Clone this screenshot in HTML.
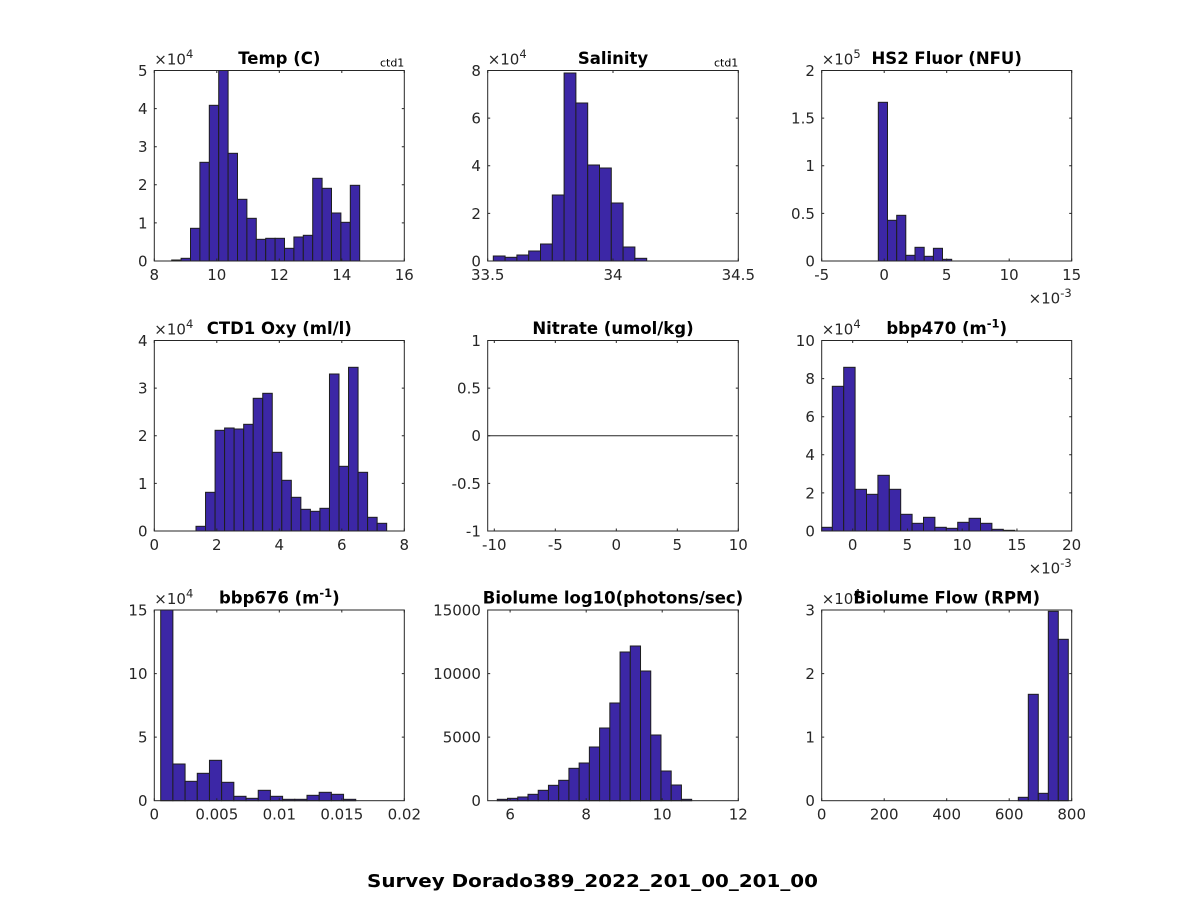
<!DOCTYPE html>
<html><head><meta charset="utf-8"><style>
html,body{margin:0;padding:0;background:#fff;}
svg{display:block;}
text{font-family:"DejaVu Sans","Liberation Sans",sans-serif;fill:#262626;}
.t{font-size:15px;}
.ti{font-size:16.5px;font-weight:bold;fill:#000;}
.bar{fill:#3c27a6;stroke:#1e1e1e;stroke-width:1;}
.ax{fill:none;stroke:#262626;stroke-width:1;}
</style></head><body>
<svg width="1188" height="900" viewBox="0 0 1188 900" xmlns="http://www.w3.org/2000/svg">
<rect width="1188" height="900" fill="#fff"/>

<!-- Panel 1: Temp -->
<g class="bar">
<rect x="171.7" y="260" width="9.4" height="1"/>
<rect x="181.1" y="258.3" width="9.4" height="2.7"/>
<rect x="190.5" y="228.3" width="9.4" height="32.7"/>
<rect x="199.9" y="162.3" width="9.4" height="98.7"/>
<rect x="209.3" y="105.3" width="9.4" height="155.7"/>
<rect x="218.7" y="70.5" width="9.4" height="190.5"/>
<rect x="228.1" y="153.3" width="9.4" height="107.7"/>
<rect x="237.5" y="199.3" width="9.4" height="61.7"/>
<rect x="246.9" y="218.3" width="9.4" height="42.7"/>
<rect x="256.3" y="239.3" width="9.4" height="21.7"/>
<rect x="265.7" y="238.3" width="9.4" height="22.7"/>
<rect x="275.1" y="238.3" width="9.4" height="22.7"/>
<rect x="284.5" y="248.3" width="9.4" height="12.7"/>
<rect x="293.9" y="237" width="9.4" height="24"/>
<rect x="303.3" y="235.3" width="9.4" height="25.7"/>
<rect x="312.7" y="178.3" width="9.4" height="82.7"/>
<rect x="322.1" y="188.3" width="9.4" height="72.7"/>
<rect x="331.5" y="213" width="9.4" height="48"/>
<rect x="340.9" y="222.3" width="9.4" height="38.7"/>
<rect x="350.3" y="185.3" width="9.4" height="75.7"/>
</g>
<rect class="ax" x="154.3" y="70.5" width="250" height="190.5"/>
<path class="ax" d="M154.3 261v-2.5M154.3 70.5v2.5M216.8 261v-2.5M216.8 70.5v2.5M279.3 261v-2.5M279.3 70.5v2.5M341.8 261v-2.5M341.8 70.5v2.5M404.3 261v-2.5M404.3 70.5v2.5M154.3 70.5h2.5M404.3 70.5h-2.5M154.3 108.6h2.5M404.3 108.6h-2.5M154.3 146.7h2.5M404.3 146.7h-2.5M154.3 184.8h2.5M404.3 184.8h-2.5M154.3 222.9h2.5M404.3 222.9h-2.5"/>
<g class="t" text-anchor="middle">
<text x="154.3" y="280">8</text><text x="216.8" y="280">10</text><text x="279.3" y="280">12</text><text x="341.8" y="280">14</text><text x="404.3" y="280">16</text>
</g>
<g class="t" text-anchor="end">
<text x="147.5" y="266.4">0</text><text x="147.5" y="228.3">1</text><text x="147.5" y="190.2">2</text><text x="147.5" y="152.1">3</text><text x="147.5" y="114">4</text><text x="147.5" y="75.9">5</text>
</g>
<text class="t" x="154.3" y="64.5">×10<tspan font-size="11.5" dy="-6.5">4</tspan></text>
<text x="279.3" y="64" class="ti" text-anchor="middle">Temp (C)</text>
<text x="404.3" y="66.5" font-size="11" text-anchor="end" style="fill:#000">ctd1</text>

<!-- Panel 2: Salinity -->
<g class="bar">
<rect x="493.3" y="256" width="11.8" height="5"/>
<rect x="505.1" y="257.3" width="11.8" height="3.7"/>
<rect x="516.9" y="255" width="11.8" height="6"/>
<rect x="528.7" y="251" width="11.8" height="10"/>
<rect x="540.5" y="244" width="11.8" height="17"/>
<rect x="552.3" y="195" width="11.8" height="66"/>
<rect x="564.1" y="73" width="11.8" height="188"/>
<rect x="575.9" y="103" width="11.8" height="158"/>
<rect x="587.7" y="165" width="11.8" height="96"/>
<rect x="599.5" y="168" width="11.8" height="93"/>
<rect x="611.3" y="203" width="11.8" height="58"/>
<rect x="623.1" y="247" width="11.8" height="14"/>
<rect x="634.9" y="258.3" width="11.8" height="2.7"/>
</g>
<rect class="ax" x="487.7" y="70.5" width="250.6" height="190.5"/>
<path class="ax" d="M487.7 261v-2.5M487.7 70.5v2.5M613 261v-2.5M613 70.5v2.5M738.3 261v-2.5M738.3 70.5v2.5M487.7 118.1h2.5M738.3 118.1h-2.5M487.7 165.75h2.5M738.3 165.75h-2.5M487.7 213.4h2.5M738.3 213.4h-2.5"/>
<g class="t" text-anchor="middle">
<text x="487.7" y="280">33.5</text><text x="613" y="280">34</text><text x="738.3" y="280">34.5</text>
</g>
<g class="t" text-anchor="end">
<text x="480.9" y="266.4">0</text><text x="480.9" y="218.8">2</text><text x="480.9" y="171.2">4</text><text x="480.9" y="123.5">6</text><text x="480.9" y="75.9">8</text>
</g>
<text class="t" x="487.7" y="64.5">×10<tspan font-size="11.5" dy="-6.5">4</tspan></text>
<text x="613" y="64" class="ti" text-anchor="middle">Salinity</text>
<text x="738.3" y="66.5" font-size="11" text-anchor="end" style="fill:#000">ctd1</text>

<!-- Panel 3: HS2 Fluor -->
<g class="bar">
<rect x="878.3" y="102.3" width="9.2" height="158.7"/>
<rect x="887.5" y="220.3" width="9.2" height="40.7"/>
<rect x="896.7" y="215.3" width="9.1" height="45.7"/>
<rect x="905.8" y="255.3" width="9.2" height="5.7"/>
<rect x="915" y="247.3" width="9.2" height="13.7"/>
<rect x="924.2" y="256.3" width="9.2" height="4.7"/>
<rect x="933.4" y="248.3" width="9.1" height="12.7"/>
<rect x="942.5" y="259.3" width="9.2" height="1.7"/>
</g>
<rect class="ax" x="821.7" y="70.5" width="250" height="190.5"/>
<path class="ax" d="M821.7 261v-2.5M821.7 70.5v2.5M884.2 261v-2.5M884.2 70.5v2.5M946.7 261v-2.5M946.7 70.5v2.5M1009.2 261v-2.5M1009.2 70.5v2.5M1071.7 261v-2.5M1071.7 70.5v2.5M821.7 118.1h2.5M1071.7 118.1h-2.5M821.7 165.75h2.5M1071.7 165.75h-2.5M821.7 213.4h2.5M1071.7 213.4h-2.5"/>
<g class="t" text-anchor="middle">
<text x="821.7" y="280">-5</text><text x="884.2" y="280">0</text><text x="946.7" y="280">5</text><text x="1009.2" y="280">10</text><text x="1071.7" y="280">15</text>
</g>
<g class="t" text-anchor="end">
<text x="814.9" y="266.4">0</text><text x="814.9" y="218.8">0.5</text><text x="814.9" y="171.2">1</text><text x="814.9" y="123.5">1.5</text><text x="814.9" y="75.9">2</text>
</g>
<text class="t" x="821.7" y="64.5">×10<tspan font-size="11.5" dy="-6.5">5</tspan></text>
<text class="t" x="1071.7" y="303.3" text-anchor="end">×10<tspan font-size="11.5" dy="-6.5">-3</tspan></text>
<text x="946.7" y="64" class="ti" text-anchor="middle">HS2 Fluor (NFU)</text>

<!-- Panel 4: CTD1 Oxy -->
<g class="bar">
<rect x="196" y="526.3" width="9.53" height="4.7"/>
<rect x="205.53" y="492.3" width="9.54" height="38.7"/>
<rect x="215.07" y="430.3" width="9.53" height="100.7"/>
<rect x="224.6" y="428" width="9.53" height="103"/>
<rect x="234.13" y="429" width="9.54" height="102"/>
<rect x="243.67" y="424.3" width="9.53" height="106.7"/>
<rect x="253.2" y="398.3" width="9.53" height="132.7"/>
<rect x="262.73" y="393.3" width="9.54" height="137.7"/>
<rect x="272.27" y="452.3" width="9.53" height="78.7"/>
<rect x="281.8" y="480.3" width="9.53" height="50.7"/>
<rect x="291.33" y="497.3" width="9.54" height="33.7"/>
<rect x="300.87" y="509.3" width="9.53" height="21.7"/>
<rect x="310.4" y="511.3" width="9.53" height="19.7"/>
<rect x="319.93" y="508.3" width="9.54" height="22.7"/>
<rect x="329.47" y="374" width="9.53" height="157"/>
<rect x="339" y="466.3" width="9.53" height="64.7"/>
<rect x="348.53" y="367.3" width="9.54" height="163.7"/>
<rect x="358.07" y="472.3" width="9.53" height="58.7"/>
<rect x="367.6" y="517.3" width="9.53" height="13.7"/>
<rect x="377.13" y="523.3" width="9.54" height="7.7"/>
</g>
<rect class="ax" x="154.3" y="340.5" width="250" height="190.5"/>
<path class="ax" d="M154.3 531v-2.5M154.3 340.5v2.5M216.8 531v-2.5M216.8 340.5v2.5M279.3 531v-2.5M279.3 340.5v2.5M341.8 531v-2.5M341.8 340.5v2.5M404.3 531v-2.5M404.3 340.5v2.5M154.3 388.1h2.5M404.3 388.1h-2.5M154.3 435.75h2.5M404.3 435.75h-2.5M154.3 483.4h2.5M404.3 483.4h-2.5"/>
<g class="t" text-anchor="middle">
<text x="154.3" y="550">0</text><text x="216.8" y="550">2</text><text x="279.3" y="550">4</text><text x="341.8" y="550">6</text><text x="404.3" y="550">8</text>
</g>
<g class="t" text-anchor="end">
<text x="147.5" y="536.4">0</text><text x="147.5" y="488.8">1</text><text x="147.5" y="441.2">2</text><text x="147.5" y="393.5">3</text><text x="147.5" y="345.9">4</text>
</g>
<text class="t" x="154.3" y="334.5">×10<tspan font-size="11.5" dy="-6.5">4</tspan></text>
<text x="279.3" y="334" class="ti" text-anchor="middle">CTD1 Oxy (ml/l)</text>

<!-- Panel 5: Nitrate -->
<rect class="ax" x="487.7" y="340.5" width="250.6" height="190.5"/>
<path class="ax" d="M487.7 435.75H732.7"/>
<path class="ax" d="M494.3 531v-2.5M494.3 340.5v2.5M555.3 531v-2.5M555.3 340.5v2.5M616.3 531v-2.5M616.3 340.5v2.5M677.3 531v-2.5M677.3 340.5v2.5M738.3 531v-2.5M738.3 340.5v2.5M487.7 388.1h2.5M738.3 388.1h-2.5M487.7 435.75h2.5M738.3 435.75h-2.5M487.7 483.4h2.5M738.3 483.4h-2.5"/>
<g class="t" text-anchor="middle">
<text x="494.3" y="550">-10</text><text x="555.3" y="550">-5</text><text x="616.3" y="550">0</text><text x="677.3" y="550">5</text><text x="738.3" y="550">10</text>
</g>
<g class="t" text-anchor="end">
<text x="480.9" y="536.4">-1</text><text x="480.9" y="488.8">-0.5</text><text x="480.9" y="441.2">0</text><text x="480.9" y="393.5">0.5</text><text x="480.9" y="345.9">1</text>
</g>
<text x="613" y="334" class="ti" text-anchor="middle">Nitrate (umol/kg)</text>

<!-- Panel 6: bbp470 -->
<g class="bar">
<rect x="821.7" y="527.3" width="10.6" height="3.7"/>
<rect x="832.3" y="386.3" width="11.4" height="144.7"/>
<rect x="843.7" y="367.3" width="11.4" height="163.7"/>
<rect x="855.1" y="489.3" width="11.4" height="41.7"/>
<rect x="866.5" y="494.3" width="11.4" height="36.7"/>
<rect x="877.9" y="475.3" width="11.4" height="55.7"/>
<rect x="889.3" y="489.3" width="11.4" height="41.7"/>
<rect x="900.7" y="514.3" width="11.4" height="16.7"/>
<rect x="912.1" y="523.3" width="11.4" height="7.7"/>
<rect x="923.5" y="517.3" width="11.4" height="13.7"/>
<rect x="934.9" y="527.3" width="11.4" height="3.7"/>
<rect x="946.3" y="528.3" width="11.4" height="2.7"/>
<rect x="957.7" y="522.3" width="11.4" height="8.7"/>
<rect x="969.1" y="518.3" width="11.4" height="12.7"/>
<rect x="980.5" y="523.3" width="11.4" height="7.7"/>
<rect x="991.9" y="529.3" width="11.4" height="1.7"/>
<rect x="1003.3" y="530.3" width="11.4" height="0.7"/>
</g>
<rect class="ax" x="821.7" y="340.5" width="250" height="190.5"/>
<path class="ax" d="M852.7 531v-2.5M852.7 340.5v2.5M907.45 531v-2.5M907.45 340.5v2.5M962.2 531v-2.5M962.2 340.5v2.5M1016.95 531v-2.5M1016.95 340.5v2.5M821.7 378.6h2.5M1071.7 378.6h-2.5M821.7 416.7h2.5M1071.7 416.7h-2.5M821.7 454.8h2.5M1071.7 454.8h-2.5M821.7 492.9h2.5M1071.7 492.9h-2.5"/>
<g class="t" text-anchor="middle">
<text x="852.7" y="550">0</text><text x="907.45" y="550">5</text><text x="962.2" y="550">10</text><text x="1016.95" y="550">15</text><text x="1071.7" y="550">20</text>
</g>
<g class="t" text-anchor="end">
<text x="814.9" y="536.4">0</text><text x="814.9" y="498.3">2</text><text x="814.9" y="460.2">4</text><text x="814.9" y="422.1">6</text><text x="814.9" y="384">8</text><text x="814.9" y="345.9">10</text>
</g>
<text class="t" x="821.7" y="334.5">×10<tspan font-size="11.5" dy="-6.5">4</tspan></text>
<text class="t" x="1071.7" y="573.3" text-anchor="end">×10<tspan font-size="11.5" dy="-6.5">-3</tspan></text>
<text x="946.7" y="334" class="ti" text-anchor="middle">bbp470 (m<tspan font-size="11.5" dy="-6.5">-1</tspan><tspan dy="6.5">)</tspan></text>

<!-- Panel 7: bbp676 -->
<g class="bar">
<rect x="160.7" y="610" width="12.19" height="190.7"/>
<rect x="172.89" y="764" width="12.19" height="36.7"/>
<rect x="185.08" y="781.3" width="12.19" height="19.4"/>
<rect x="197.27" y="773.3" width="12.19" height="27.4"/>
<rect x="209.46" y="760.3" width="12.19" height="40.4"/>
<rect x="221.65" y="782.3" width="12.19" height="18.4"/>
<rect x="233.84" y="796.3" width="12.19" height="4.4"/>
<rect x="246.03" y="798.3" width="12.19" height="2.4"/>
<rect x="258.22" y="790.3" width="12.19" height="10.4"/>
<rect x="270.41" y="796.3" width="12.19" height="4.4"/>
<rect x="282.6" y="799.3" width="12.19" height="1.4"/>
<rect x="294.79" y="799.3" width="12.19" height="1.4"/>
<rect x="306.98" y="795.3" width="12.19" height="5.4"/>
<rect x="319.17" y="792.3" width="12.19" height="8.4"/>
<rect x="331.36" y="794.3" width="12.19" height="6.4"/>
<rect x="343.55" y="799.3" width="12.19" height="1.4"/>
</g>
<rect class="ax" x="154.3" y="610" width="250" height="190.7"/>
<path class="ax" d="M154.3 800.7v-2.5M154.3 610v2.5M216.8 800.7v-2.5M216.8 610v2.5M279.3 800.7v-2.5M279.3 610v2.5M341.8 800.7v-2.5M341.8 610v2.5M404.3 800.7v-2.5M404.3 610v2.5M154.3 673.57h2.5M404.3 673.57h-2.5M154.3 737.13h2.5M404.3 737.13h-2.5"/>
<g class="t" text-anchor="middle">
<text x="154.3" y="819.7">0</text><text x="216.8" y="819.7">0.005</text><text x="279.3" y="819.7">0.01</text><text x="341.8" y="819.7">0.015</text><text x="404.3" y="819.7">0.02</text>
</g>
<g class="t" text-anchor="end">
<text x="147.5" y="806.1">0</text><text x="147.5" y="742.5">5</text><text x="147.5" y="679">10</text><text x="147.5" y="615.4">15</text>
</g>
<text class="t" x="154.3" y="604">×10<tspan font-size="11.5" dy="-6.5">4</tspan></text>
<text x="279.3" y="603.5" class="ti" text-anchor="middle">bbp676 (m<tspan font-size="11.5" dy="-6.5">-1</tspan><tspan dy="6.5">)</tspan></text>

<!-- Panel 8: Biolume -->
<g class="bar">
<rect x="497.3" y="799.3" width="10.23" height="1.4"/>
<rect x="507.53" y="798.3" width="10.23" height="2.4"/>
<rect x="517.76" y="797" width="10.23" height="3.7"/>
<rect x="527.99" y="794.3" width="10.23" height="6.4"/>
<rect x="538.22" y="790.3" width="10.23" height="10.4"/>
<rect x="548.45" y="785.3" width="10.23" height="15.4"/>
<rect x="558.68" y="780.3" width="10.23" height="20.4"/>
<rect x="568.91" y="768.3" width="10.23" height="32.4"/>
<rect x="579.14" y="763" width="10.23" height="37.7"/>
<rect x="589.37" y="747" width="10.23" height="53.7"/>
<rect x="599.6" y="728" width="10.23" height="72.7"/>
<rect x="609.83" y="703" width="10.23" height="97.7"/>
<rect x="620.06" y="652" width="10.23" height="148.7"/>
<rect x="630.29" y="646" width="10.23" height="154.7"/>
<rect x="640.52" y="671" width="10.23" height="129.7"/>
<rect x="650.75" y="735" width="10.23" height="65.7"/>
<rect x="660.98" y="771" width="10.23" height="29.7"/>
<rect x="671.21" y="785" width="10.23" height="15.7"/>
<rect x="681.44" y="799.3" width="10.23" height="1.4"/>
</g>
<rect class="ax" x="487.7" y="610" width="250.6" height="190.7"/>
<path class="ax" d="M510.1 800.7v-2.5M510.1 610v2.5M586.2 800.7v-2.5M586.2 610v2.5M662.2 800.7v-2.5M662.2 610v2.5M738.3 800.7v-2.5M738.3 610v2.5M487.7 673.57h2.5M738.3 673.57h-2.5M487.7 737.13h2.5M738.3 737.13h-2.5"/>
<g class="t" text-anchor="middle">
<text x="510.1" y="819.7">6</text><text x="586.2" y="819.7">8</text><text x="662.2" y="819.7">10</text><text x="738.3" y="819.7">12</text>
</g>
<g class="t" text-anchor="end">
<text x="480.9" y="806.1">0</text><text x="480.9" y="742.5">5000</text><text x="480.9" y="679">10000</text><text x="480.9" y="615.4">15000</text>
</g>
<text x="613" y="603.5" class="ti" text-anchor="middle">Biolume log10(photons/sec)</text>

<!-- Panel 9: Biolume Flow -->
<g class="bar">
<rect x="1018.3" y="797.3" width="10" height="3.4"/>
<rect x="1028.3" y="694.3" width="10" height="106.4"/>
<rect x="1038.3" y="793.3" width="10" height="7.4"/>
<rect x="1048.3" y="611.3" width="10" height="189.4"/>
<rect x="1058.3" y="639.3" width="10" height="161.4"/>
</g>
<rect class="ax" x="821.7" y="610" width="250" height="190.7"/>
<path class="ax" d="M821.7 800.7v-2.5M821.7 610v2.5M884.2 800.7v-2.5M884.2 610v2.5M946.7 800.7v-2.5M946.7 610v2.5M1009.2 800.7v-2.5M1009.2 610v2.5M1071.7 800.7v-2.5M1071.7 610v2.5M821.7 673.57h2.5M1071.7 673.57h-2.5M821.7 737.13h2.5M1071.7 737.13h-2.5M821.7 610h2.5M1071.7 610h-2.5"/>
<g class="t" text-anchor="middle">
<text x="821.7" y="819.7">0</text><text x="884.2" y="819.7">200</text><text x="946.7" y="819.7">400</text><text x="1009.2" y="819.7">600</text><text x="1071.7" y="819.7">800</text>
</g>
<g class="t" text-anchor="end">
<text x="814.9" y="806.1">0</text><text x="814.9" y="742.5">1</text><text x="814.9" y="679">2</text><text x="814.9" y="615.4">3</text>
</g>
<text class="t" x="821.7" y="604">×10<tspan font-size="11.5" dy="-6.5">4</tspan></text>
<text x="946.7" y="603.5" class="ti" text-anchor="middle">Biolume Flow (RPM)</text>

<!-- Main title -->
<text x="592.5" y="887" font-size="17.5" font-weight="bold" text-anchor="middle" style="fill:#000" textLength="451" lengthAdjust="spacingAndGlyphs">Survey Dorado389_2022_201_00_201_00</text>
</svg>
</body></html>
